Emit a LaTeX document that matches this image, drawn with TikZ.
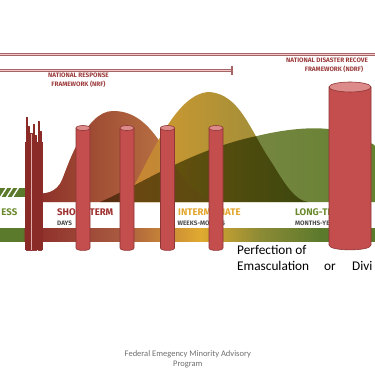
\documentclass[tikz,border=0pt]{standalone}
\usepackage{fontspec}
\setmainfont{Carlito}
\newfontfamily\lblfont{Fira Sans}
\definecolor{lineedge}{HTML}{A86464}
\definecolor{lineinner}{HTML}{EBCBCB}
\definecolor{nrfred}{HTML}{9B3B3B}
\definecolor{strred}{HTML}{9E2F2F}
\definecolor{intyellow}{HTML}{E3A52A}
\definecolor{ltgreen}{HTML}{6B8A2E}
\definecolor{subgray}{HTML}{4A4A4A}
\definecolor{capgray}{HTML}{6E6E6E}
\definecolor{tubered}{HTML}{C44D4D}
\definecolor{tubeedge}{HTML}{8E3535}
\definecolor{tubetop}{HTML}{DC8A8A}
\definecolor{bandgreen}{HTML}{5C7A2C}
\definecolor{bandred}{HTML}{8B2A28}
\definecolor{bandbrown}{HTML}{A85A40}
\definecolor{bandyellow}{HTML}{E0AA30}
\definecolor{bandolive}{HTML}{8C8A35}
\definecolor{brL}{HTML}{8A2C28}
\definecolor{brM}{HTML}{A45A3C}
\definecolor{brR}{HTML}{C98B4C}
\definecolor{yeL}{HTML}{D99B2D}
\definecolor{yeM}{HTML}{E2A82F}
\definecolor{yeR}{HTML}{8E8A3E}
\definecolor{grL}{HTML}{8C8A58}
\definecolor{grM}{HTML}{4F6E2C}
\definecolor{grR}{HTML}{64822F}
\definecolor{clusterred}{HTML}{8B2B28}
\definecolor{clusterline}{HTML}{E2AEAC}
\pgfdeclarehorizontalshading{bandshade}{100bp}{color(0bp)=(bandgreen); color(25bp)=(bandgreen); color(28.05bp)=(bandgreen); color(28.4bp)=(bandred); color(41bp)=(bandbrown); color(51.7bp)=(bandyellow); color(59.7bp)=(bandolive); color(67.7bp)=(bandgreen); color(75bp)=(bandgreen); color(100bp)=(bandgreen)}
\tikzset{
  frameline/.style={draw=lineedge, line width=2.4pt},
  frameinner/.style={draw=lineinner, line width=0.9pt},
  nrftext/.style={font=\lblfont\bfseries\fontsize{6.4}{7}\selectfont, text=nrfred, inner sep=0pt},
  phase/.style={font=\lblfont\bfseries\fontsize{9.6}{11}\selectfont, inner sep=0pt, anchor=base west},
  sublbl/.style={font=\lblfont\bfseries\fontsize{6.4}{7}\selectfont, text=subgray, inner sep=0pt, anchor=base west},
  tubebody/.style={fill=tubered, draw=tubeedge, line width=0.6pt},
  tubecap/.style={fill=tubetop, draw=tubeedge, line width=0.6pt},
  thintube/.style={fill=clusterline, draw=clusterred, line width=0.5pt},
  bigtext/.style={font=\fontsize{13.3}{16}\selectfont, inner sep=0pt, anchor=base west},
  captext/.style={font=\fontsize{8.5}{10}\selectfont, text=capgray, inner sep=0pt, anchor=base},
}
\newcommand{\drawtube}[5]{%
  \filldraw[tubebody] (#1-#4,#2) -- (#1-#4,#3) .. controls (#1-#4,#3+1.3*#5) and (#1+#4,#3+1.3*#5) .. (#1+#4,#3) -- (#1+#4,#2) -- cycle;
  \filldraw[tubecap] (#1,#2) ellipse [x radius=#4, y radius=#5];}
\newcommand{\brownhill}[1]{\path[#1] (30,202) -- (30,192) .. controls (45,196) and (57,192) .. (62,180) .. controls (67,168) and (85,111) .. (113,111) .. controls (135,111) and (150,125) .. (165,150) .. controls (180,175) and (195,198) .. (215,202) -- cycle;}
\newcommand{\yellowhill}[1]{\path[#1] (125,202) .. controls (150,160) and (175,92) .. (210,92) .. controls (240,95) and (250,130) .. (270,160) .. controls (280,175) and (292,200) .. (308,202) -- cycle;}
\newcommand{\greenhill}[1]{\path[#1] (100,202) .. controls (140,185) and (190,150) .. (257,136) .. controls (290,128) and (320,126) .. (340,131) .. controls (355,135) and (368,141) .. (376,146) -- (376,202) -- cycle;}
\newcommand{\thin}[2]{\filldraw[thintube] (#1-0.6,#2) rectangle (#1+0.6,250);}
\begin{document}
\begin{tikzpicture}[x=1pt,y=-1pt,line join=round]
\useasboundingbox (0,0) rectangle (375,375);
\begin{scope}
\clip (0,0) rectangle (375,375);
% framework lines
\coordinate (L1a) at (0,54.5);
\coordinate (L1b) at (376,54.5);
\coordinate (L2a) at (0,70.5);
\coordinate (L2b) at (232,70.5);
\coordinate (T2a) at (232,66);
\coordinate (T2b) at (232,75);
\draw[frameline] (L1a) -- (L1b);
\draw[frameinner] (L1a) -- (L1b);
\draw[frameline] (L2a) -- (L2b);
\draw[frameinner] (L2a) -- (L2b);
\draw[lineedge, line width=1.2pt] (T2a) -- (T2b);
\node[nrftext, anchor=base] (nrf1) at (78.5,77.3) {NATIONAL RESPONSE};
\node[nrftext, anchor=base] (nrf2) at (78.5,86.3) {FRAMEWORK (NRF)};
\node[nrftext, anchor=base west] (ndrf1) at (286,62.3) {NATIONAL DISASTER RECOVE};
\node[nrftext, anchor=base] (ndrf2) at (334,71.5) {FRAMEWORK (NDRF)};
% left green band with stripes
\begin{scope}
\clip (0,188) rectangle (25,197);
\fill[bandgreen] (0,188) rectangle (25,197);
\foreach \sx in {0,6,12} {\draw[white, line width=1.4pt] (\sx,198) -- (\sx+7,187);}
\end{scope}
% hills
\brownhill{shade, left color=brL, middle color=brM, right color=brR}
\yellowhill{shade, left color=yeL, middle color=yeM, right color=yeR}
\brownhill{shade, left color=brL, middle color=brM, right color=brR, fill opacity=0.35}
\begin{scope}[blend mode=multiply]
\greenhill{shade, left color=grL, middle color=grM, right color=grR}
\end{scope}
% phase labels
\node[phase, text=ltgreen, anchor=base east] (ess) at (17.5,215) {ESS};
\node[phase, text=strred] (st) at (57,215) {SHORT-TERM};
\node[sublbl] (days) at (57,225) {DAYS};
\node[phase, text=intyellow] (im) at (178,215) {INTERMEDIATE};
\node[sublbl] (wm) at (177.5,225) {WEEKS-MONTHS};
\node[phase, text=ltgreen] (lt) at (295,215) {LONG-TERM};
\node[sublbl] (my) at (295,225) {MONTHS-YEARS};
% lower band
\shade[shading=bandshade] (0,228) rectangle (375,241);
% thin tube cluster
\fill[clusterred] (25,142) rectangle (43,250);
\thin{26.4}{117}
\thin{28.8}{126}
\thin{31.2}{133}
\thin{33.6}{124}
\thin{36.0}{135}
\thin{38.4}{121}
\thin{40.8}{131}
% tubes
\drawtube{83}{128}{248}{7}{2.5}
\drawtube{127}{128}{248}{7}{2.5}
\drawtube{167.5}{128}{248}{7}{2.5}
\drawtube{216}{128}{248}{7}{2.5}
\drawtube{350}{87}{245}{21}{5}
% texts
\node[bigtext] (perf) at (237,254.5) {Perfection of};
\node[bigtext] (emas) at (237,270.5) {Emasculation};
\node[bigtext] (or) at (324,270.5) {or};
\node[bigtext] (divi) at (352,270.5) {Divi};
\node[captext] (cap1) at (187.8,356) {Federal Emegency Minority Advisory};
\node[captext] (cap2) at (187.8,366) {Program};
\end{scope}
\end{tikzpicture}
\end{document}
